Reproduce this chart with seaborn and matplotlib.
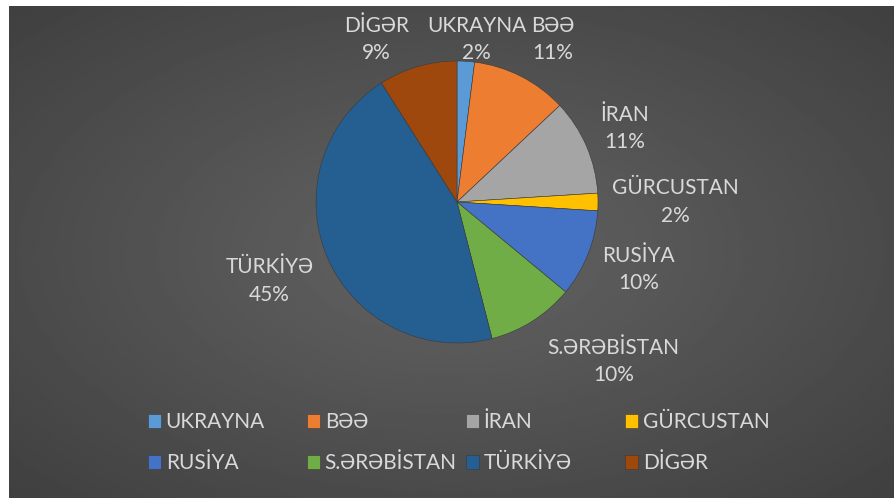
import numpy as np
import matplotlib
matplotlib.use("Agg")
import matplotlib.pyplot as plt
import seaborn as sns

# Data
countries = ["UKRAYNA", "BƏƏ", "İRAN", "GÜRCUSTAN", "RUSİYA", "S.ƏRƏBİSTAN", "TÜRKİYƏ", "DİGƏR"]
shares = [2, 11, 11, 2, 10, 10, 45, 9]
colors = ["#5B9BD5", "#ED7D31", "#A5A5A5", "#FFC000", "#4472C4", "#70AD47", "#255E91", "#9E480E"]

# label placement (pie radius units), excel "best fit" look
label_xy = [(0.14, 1.15), (0.68, 1.15), (1.19, 0.52), (1.55, 0.0),
            (1.29, -0.48), (1.11, -1.13), (-1.33, -0.56), (-0.57, 1.15)]

sns.set_theme(style="dark")
plt.rcParams["font.family"] = ["Lato", "DejaVu Sans"]
text_col = "#D9D9D9"
fs = 15

W, H = 894, 498
fig = plt.figure(figsize=(W / 100, H / 100), dpi=100)
fig.patch.set_facecolor("white")

# dark radial gradient background
bg = fig.add_axes([9 / W, 0, (W - 9) / W, (H - 6) / H])
yy, xx = np.mgrid[-1:1:200j, -1:1:300j]
rr = np.sqrt(xx ** 2 + yy ** 2) / np.sqrt(2)
bg.imshow(0.25 + 0.14 * (1 - rr), cmap="gray", vmin=0, vmax=1, aspect="auto",
          extent=[0, 1, 0, 1], interpolation="bilinear")
bg.set_axis_off()

# pie axes: center (457, 202) px, radius 141 px
cx, cy, r = 457, 202, 141
ax = fig.add_axes([(cx - r) / W, (H - cy - r) / H, 2 * r / W, 2 * r / H])
wedges, texts = ax.pie(
    shares,
    labels=[f"{c}\n{s}%" for c, s in zip(countries, shares)],
    colors=colors,
    startangle=90,
    counterclock=False,
    wedgeprops=dict(edgecolor="#3a3a3a", linewidth=0.4),
    textprops=dict(color=text_col, fontsize=fs, linespacing=1.45),
)
for t, (lx, ly) in zip(texts, label_xy):
    t.set_position((lx, ly))
    t.set_ha("center")
    t.set_va("center")
ax.set_xlim(-1, 1)
ax.set_ylim(-1, 1)
ax.set_axis_off()

# legend: excel uses equal-width columns, so one legend per column
col_x = [148, 307, 466, 625]
for j, x in enumerate(col_x):
    idx = [j, j + 4]
    leg = fig.legend([wedges[i] for i in idx], [countries[i] for i in idx],
                     loc="center left", bbox_to_anchor=(x / W, 1 - 442.5 / H),
                     frameon=False, fontsize=fs, handlelength=0.6, handleheight=0.65,
                     handletextpad=0.25, labelspacing=1.0, borderpad=0, borderaxespad=0)
    for t in leg.get_texts():
        t.set_color(text_col)

plt.savefig("out.png", dpi=100)
